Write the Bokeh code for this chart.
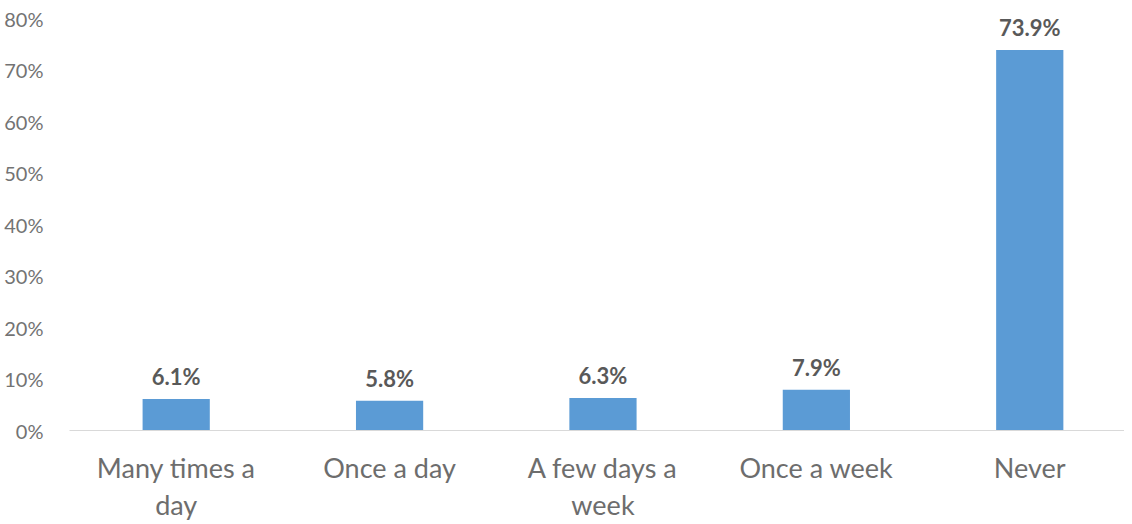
from bokeh.plotting import figure
from bokeh.models import ColumnDataSource, Range1d, FixedTicker, PrintfTickFormatter, LabelSet
from bokeh.core.properties import value
from bokeh.embed import file_html
from bokeh.resources import INLINE

categories = ["Many times a\nday", "Once a day", "A few days a\nweek", "Once a week", "Never"]
values = [6.1, 5.8, 6.3, 7.9, 73.9]
y_ticks = [0, 10, 20, 30, 40, 50, 60, 70, 80]

idx = list(range(len(categories)))
src = ColumnDataSource(dict(
    x=idx,
    top=values,
    lab=[f"{v:.1f}%" for v in values],
))

p = figure(width=1124, height=524, output_backend="svg", toolbar_location=None,
           x_range=Range1d(-0.5, 4.444), y_range=Range1d(0, 80),
           min_border_left=69, min_border_right=0, min_border_top=18, min_border_bottom=91)
p.outline_line_color = None
p.background_fill_color = "white"
p.border_fill_color = "white"
p.xgrid.visible = False
p.ygrid.visible = False

p.vbar(x="x", top="top", bottom=0, width=0.315, source=src,
       fill_color="#5B9BD5", line_color=None)

# y axis
p.yaxis.ticker = FixedTicker(ticks=y_ticks)
p.yaxis.formatter = PrintfTickFormatter(format="%d%%")
p.yaxis.axis_line_color = None
p.yaxis.major_tick_line_color = None
p.yaxis.minor_tick_line_color = None
p.yaxis.major_label_text_font = "Lato"
p.yaxis.major_label_text_font_size = "20px"
p.yaxis.major_label_text_color = "#737373"
p.yaxis.major_label_standoff = 20

# x axis
p.xaxis.ticker = FixedTicker(ticks=idx)
p.xaxis.major_label_overrides = {i: c for i, c in zip(idx, categories)}
p.xaxis.axis_line_color = "#d9d9d9"
p.xaxis.axis_line_width = 1.2
p.xaxis.major_tick_line_color = None
p.xaxis.minor_tick_line_color = None
p.xaxis.major_label_text_font = "Lato"
p.xaxis.major_label_text_font_size = "27px"
p.xaxis.major_label_text_color = "#6d6d6d"
p.xaxis.major_label_text_line_height = 1.15
p.xaxis.major_label_standoff = 14

vals = LabelSet(x="x", y="top", text="lab", source=src, y_offset=9,
                text_align="center", text_baseline="bottom",
                text_font=value("Lato"), text_font_style="bold",
                text_font_size="22px", text_color="#595959")
p.add_layout(vals)

open("out.html", "w").write(file_html(p, INLINE))
